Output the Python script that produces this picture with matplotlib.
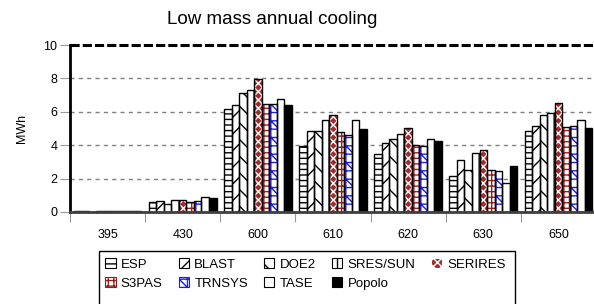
import matplotlib
matplotlib.use("Agg")
import matplotlib.pyplot as plt
from matplotlib.patches import Patch, Rectangle
import numpy as np

plt.rcParams['font.family'] = ['Liberation Sans', 'DejaVu Sans']
plt.rcParams['hatch.linewidth'] = 1.0

# cases on the x axis
cases = ['395', '430', '600', '610', '620', '630', '650']

# annual cooling (MWh) per program, one value per case
esp     = [0.03, 0.58, 6.15, 3.96, 3.47, 2.17, 4.84]
blast   = [0.04, 0.66, 6.43, 4.88, 4.12, 3.13, 5.14]
doe2    = [0.02, 0.48, 7.11, 4.88, 4.36, 2.51, 5.82]
sres    = [0.05, 0.74, 7.29, 5.48, 4.66, 3.51, 5.94]
serires = [0.04, 0.74, 7.97, 5.80, 5.02, 3.71, 6.55]
s3pas   = [0.05, 0.60, 6.49, 4.78, 4.04, 2.51, 5.10]
trnsys  = [0.04, 0.66, 6.49, 4.62, 3.94, 2.43, 5.12]
tase    = [0.05, 0.92, 6.79, 5.52, 4.38, 1.73, 5.50]
popolo  = [0.04, 0.86, 6.43, 4.98, 4.28, 2.75, 5.04]

programs = ['ESP', 'BLAST', 'DOE2', 'SRES/SUN', 'SERIRES',
            'S3PAS', 'TRNSYS', 'TASE', 'Popolo']
values = [esp, blast, doe2, sres, serires, s3pas, trnsys, tase, popolo]

# (facecolor, hatch colour, hatch)
styles = [
    ('white', 'black', '---'),
    ('white', 'black', '//'),
    ('white', 'black', '\\\\'),
    ('white', 'black', '||'),
    ('#a52a2a', 'white', 'xxxx'),
    ('white', '#9b1c1c', '+++'),
    ('white', '#1a1aff', '++\\\\'),
    ('white', 'black', ''),
    ('black', 'black', ''),
]

fig = plt.figure(figsize=(5.94, 3.04), dpi=100)
ax = fig.add_axes([70 / 594, 92 / 304, 526 / 594, 167 / 304])

x = np.arange(len(cases))
w = 0.1
for i, (vals, (fc, hc, hatch)) in enumerate(zip(values, styles)):
    pos = x - 0.4 + w * i
    ax.bar(pos, vals, width=w, color=fc, edgecolor=hc, hatch=hatch,
           linewidth=0, zorder=3)
    ax.bar(pos, vals, width=w, fill=False, edgecolor='black',
           linewidth=1, zorder=4)

ax.set_xlim(-0.5, len(cases) - 0.5)
ax.set_ylim(0, 10)
ax.set_yticks([0, 2, 4, 6, 8, 10])
ax.set_xticks(np.arange(len(cases) + 1) - 0.5)
ax.set_xticklabels([])
ax.set_xticks(x, minor=True)
ax.set_xticklabels(cases, minor=True)
ax.tick_params(axis='x', which='major', length=7, color='#999999', direction='out')
ax.tick_params(axis='x', which='minor', length=0, pad=12, labelsize=9)
ax.tick_params(axis='y', length=7, color='#999999', direction='out', pad=2, labelsize=9)

for yv in [2, 4, 6, 8]:
    ax.axhline(yv, color='#808080', linestyle=(0, (3, 3)), linewidth=1, zorder=1)
ax.axhline(10, color='black', linestyle=(0, (3, 1)), linewidth=2.2, zorder=5, clip_on=False)

for side in ['top', 'right']:
    ax.spines[side].set_visible(False)
ax.spines['left'].set_linewidth(2)
ax.spines['left'].set_color('black')
ax.spines['bottom'].set_linewidth(2)
ax.spines['bottom'].set_color('#404040')
ax.spines['bottom'].set_zorder(6)

ax.set_ylabel('MWh', fontsize=9)
ax.yaxis.set_label_coords(-0.08, 0.5)

fig.text(272 / 594, 1 - 20 / 304, 'Low mass annual cooling', fontsize=13.5,
         ha='center', va='center')

handles = [Patch(facecolor=fc, edgecolor=hc if hatch else 'black', hatch=hatch,
                 linewidth=0.8, label=p)
           for p, (fc, hc, hatch) in zip(programs, styles)]
order = [0, 5, 1, 6, 2, 7, 3, 8, 4]
fig.legend([handles[i] for i in order], [programs[i] for i in order],
           ncol=5, loc='upper left', bbox_to_anchor=(101 / 594, 1 - 254 / 304),
           frameon=False, fontsize=9.5, handlelength=0.8, handleheight=0.8,
           handletextpad=0.4, columnspacing=1.2, labelspacing=0.5,
           borderaxespad=0, borderpad=0.3)

fig.patches.append(Rectangle((99 / 594, -0.02), 416 / 594, (304 - 251) / 304 + 0.02,
                             transform=fig.transFigure, fill=False,
                             edgecolor='black', linewidth=1))

fig.savefig('out.png', dpi=100)
